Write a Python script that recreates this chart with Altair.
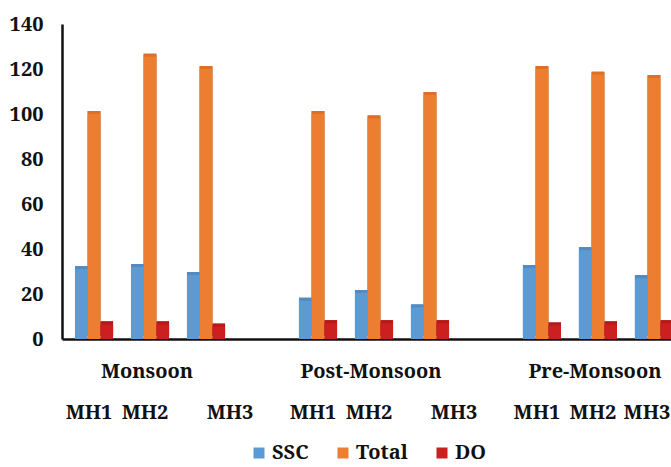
import altair as alt
import pandas as pd

# Sampling seasons, stations and measured series
seasons = ["Monsoon", "Post-Monsoon", "Pre-Monsoon"]
sites = ["MH1", "MH2", "MH3"]
series = ["SSC", "Total", "DO"]

# Values per station, in season order (Monsoon MH1..MH3, Post-Monsoon MH1..MH3, Pre-Monsoon MH1..MH3)
ssc = [31, 32, 28.5, 17, 20.5, 14, 31.5, 39.5, 27]
total = [100, 125.5, 120, 100, 98, 108.5, 120, 117.5, 116]
do = [6.5, 6.5, 5.5, 7, 7, 7, 6, 6.5, 7]

y_ticks = [0, 20, 40, 60, 80, 100, 120, 140]

front_colors = ["#5B9BD5", "#ED7D31", "#CC1F1F"]
top_colors = ["#4F8CC6", "#DD7028", "#B81818"]
side_colors = ["#3D6D9B", "#9E5220", "#7E1010"]

FONT = "Noto Serif"
FS = 20

# Category slots: three stations per season, with an empty slot between seasons
slots = []
for i, s in enumerate(seasons):
    slots += [f"{s}|{site}" for site in sites]
    if i < len(seasons) - 1:
        slots.append(f"gap{i}|")

rows = []
values = {"SSC": ssc, "Total": total, "DO": do}
for i, s in enumerate(seasons):
    for j, site in enumerate(sites):
        for name in series:
            rows.append({"slot": f"{s}|{site}", "series": name, "value": values[name][i * 3 + j]})
df = pd.DataFrame(rows)

season_df = pd.DataFrame({"season": seasons, "slot": [f"{s}|MH2" for s in seasons]})

x_scale = alt.Scale(domain=slots, range=[0, 624], paddingInner=0.32, paddingOuter=0.232)
y_scale = alt.Scale(domain=[0, 140], nice=False)

x_enc = alt.X(
    "slot:N",
    scale=x_scale,
    sort=slots,
    title=None,
    axis=alt.Axis(
        labelExpr="split(datum.label, '|')[1]",
        labelAngle=0,
        ticks=False,
        domainColor="#111111",
        domainWidth=2.5,
        labelFont=FONT,
        labelFontSize=FS,
        labelFontWeight="bold",
        labelColor="#111111",
        labelBaseline="alphabetic",
        labelPadding=79,
        labelOffset={
            "condition": [
                {"test": "datum.value == 'Monsoon|MH3' || datum.value == 'Post-Monsoon|MH3'", "value": 24},
                {"test": "datum.value == 'Pre-Monsoon|MH3'", "value": -7},
            ],
            "value": -5,
        },
    ),
)
y_enc = alt.Y(
    "value:Q",
    scale=y_scale,
    title=None,
    axis=alt.Axis(
        values=y_ticks,
        ticks=False,
        grid=False,
        domainColor="#111111",
        domainWidth=2.5,
        labelFont=FONT,
        labelFontSize=FS,
        labelFontWeight="bold",
        labelColor="#111111",
        labelPadding=19,
    ),
)
offset_enc = alt.XOffset("series:N", sort=series, scale=alt.Scale(domain=series, paddingInner=0, paddingOuter=0))

base = alt.Chart(df)

# Darker copy shifted up and right gives each column its side face
side = base.mark_bar(xOffset=3, yOffset=-3).encode(
    x=x_enc,
    xOffset=offset_enc,
    y=y_enc,
    color=alt.Color("series:N", sort=series, scale=alt.Scale(domain=series, range=side_colors), legend=None),
)

# Copy shifted straight up forms the top face
top = base.mark_bar(yOffset=-3).encode(
    x=x_enc,
    xOffset=offset_enc,
    y=y_enc,
    color=alt.Color("series:N", sort=series, scale=alt.Scale(domain=series, range=top_colors), legend=None),
)

front = base.mark_bar().encode(
    x=x_enc,
    xOffset=offset_enc,
    y=y_enc,
    color=alt.Color(
        "series:N",
        sort=series,
        scale=alt.Scale(domain=series, range=front_colors),
        legend=alt.Legend(
            title=None,
            orient="none",
            direction="horizontal",
            legendX=187,
            legendY=419,
            symbolType="square",
            symbolSize=121,
            symbolStrokeWidth=0,
            labelFont=FONT,
            labelFontSize=FS,
            labelFontWeight="bold",
            labelColor="#111111",
            labelOffset=3,
            columnPadding=24,
        ),
    ),
)

season_text = alt.Chart(season_df).mark_text(
    font=FONT, fontSize=FS, fontWeight="bold", color="#111111", baseline="alphabetic", dx=-3
).encode(
    x=alt.X("slot:N", scale=x_scale, sort=slots),
    y=alt.value(354),
    text="season:N",
)

chart = (
    alt.layer(side, top, front, season_text)
    .resolve_scale(color="independent")
    .properties(
        width=609,
        height=315,
        autosize=alt.AutoSizeParams(type="none"),
        padding={"left": 62, "top": 24, "right": 0, "bottom": 128},
        background="white",
    )
    .configure_view(stroke=None)
)

chart.save("out.html", embed_options={"renderer": "svg", "actions": False})
